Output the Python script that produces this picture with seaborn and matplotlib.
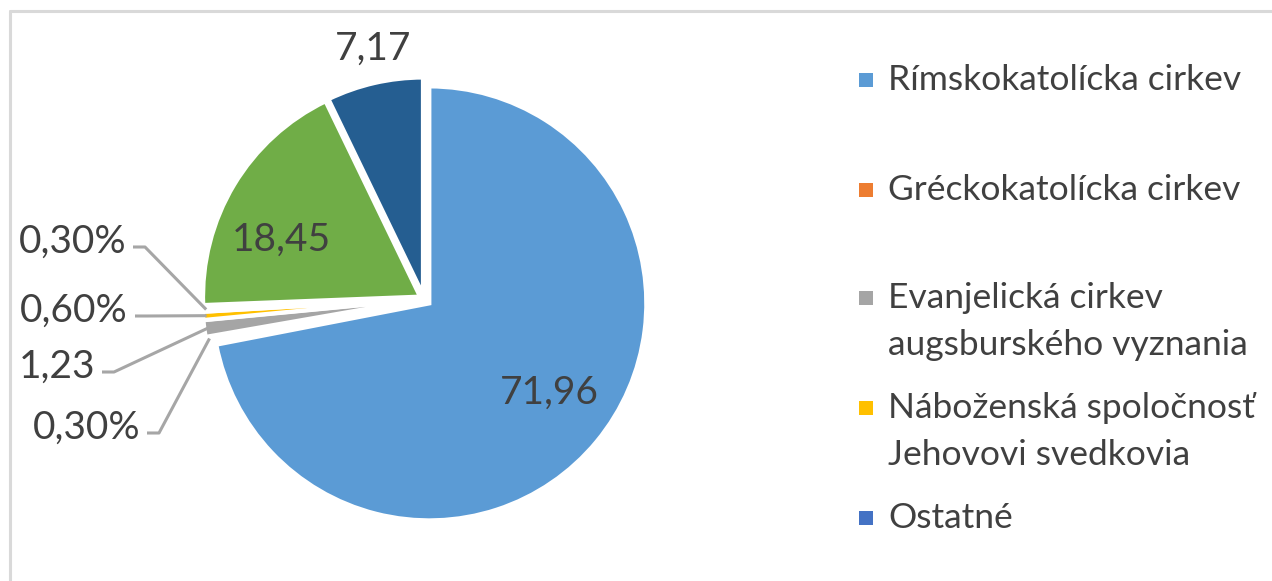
import seaborn as sns
import matplotlib.pyplot as plt
import numpy as np
from matplotlib.lines import Line2D
from matplotlib.patches import Rectangle

sns.set_theme(style="white")
plt.rcParams['font.family'] = ['Lato', 'DejaVu Sans']

# data
categories = ["Rímskokatolícka cirkev", "Gréckokatolícka cirkev",
              "Evanjelická cirkev\naugsburského vyznania",
              "Náboženská spoločnosť\nJehovovi svedkovia", "Ostatné", "", ""]
values = [71.96, 0.30, 1.23, 0.60, 0.30, 18.45, 7.17]
label_fmt = ["{}", "{}%", "{}", "{}%", "{}%", "{}", "{}"]
colors = ["#5B9BD5", "#ED7D31", "#A5A5A5", "#FFC000", "#4472C4", "#70AD47", "#255E91"]
n_legend = 5

text_col = "#404040"
W, H = 1272, 581
fig = plt.figure(figsize=(W / 100, H / 100), dpi=100)
fig.patch.set_facecolor("white")

# pie axes: centre (424, 299) px, half-size 230 px
cx, cy, half = 424, 299, 230
ax = fig.add_axes([(cx - half) / W, (H - cy - half) / H, 2 * half / W, 2 * half / H])

r = 217 / half
wedges, _ = ax.pie(values, colors=colors, startangle=90, counterclock=False,
                   radius=r, explode=[0.03] + [0.02] * (len(values) - 1),
                   wedgeprops=dict(edgecolor="white", linewidth=3))
ax.set_xlim(-1, 1)
ax.set_ylim(-1, 1)
ax.axis("off")

labels = [f.format(("%.2f" % v).replace(".", ",")) for f, v in zip(label_fmt, values)]

# inside labels
inside = {0: (0.543, -0.409), 5: (-0.622, 0.257), 6: (-0.222, 1.09)}
for i, (x, y) in inside.items():
    ax.text(x, y, labels[i], ha="center", va="center", fontsize=28, color=text_col)

# outside labels with leader lines (text right end, y) in px
outside = {4: (126, 242), 3: (128, 311), 2: (95, 367), 1: (140, 428)}
for i, (tx, ty) in outside.items():
    w = wedges[i]
    th = np.deg2rad((w.theta1 + w.theta2) / 2)
    ex, ey = 1.005 * r * np.cos(th), 1.005 * r * np.sin(th)
    lx = (tx + 7 - cx) / half
    ly = (cy - ty - 5) / half
    ax.plot([lx, lx + 12 / half, ex], [ly, ly, ey], color="#A6A6A6", lw=2.2,
            solid_capstyle="butt", clip_on=False)
    ax.text((tx - cx) / half, (cy - ty) / half, labels[i], ha="right", va="center",
            fontsize=28, color=text_col)

# legend
leg_y = [80, 190, 298, 408, 518]
for i in range(n_legend):
    y = leg_y[i]
    fig.add_artist(Rectangle(((866 - 7) / W, (H - y - 7) / H), 14 / W, 14 / H,
                             transform=fig.transFigure, color=colors[i], lw=0))
    for k, line in enumerate(categories[i].split("\n")):
        fig.text(888 / W, (H - y - 47 * k) / H, line, ha="left", va="center",
                 fontsize=25.5, color=text_col)

# chart border (left and top)
fig.add_artist(Line2D([9.5 / W, 9.5 / W], [0, (H - 11) / H], color="#D9D9D9", lw=2.2,
                      transform=fig.transFigure))
fig.add_artist(Line2D([9.5 / W, 1], [(H - 11) / H, (H - 11) / H], color="#D9D9D9", lw=2.2,
                      transform=fig.transFigure))

fig.savefig("out.png", dpi=100)
